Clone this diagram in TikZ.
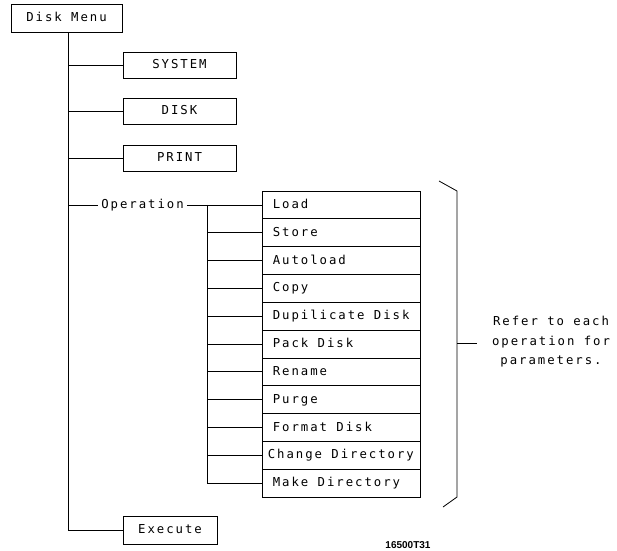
\documentclass[tikz,border=0pt]{standalone}
\usepackage{fontspec}
\newfontfamily\hpfont[LetterSpace=16]{DejaVu Sans Mono}
\newfontfamily\tagfont{Liberation Sans}
\begin{document}
\begin{tikzpicture}[x=1pt,y=-1pt,
  every node/.style={font=\hpfont\fontsize{12.3}{19.5}\selectfont},
  line/.style={draw=black,line width=0.8pt},
  fixed/.style={text height=9pt,text depth=3pt},
  menubox/.style={draw=black,line width=0.8pt,minimum height=28pt,inner sep=0pt,anchor=center,fixed},
  rowbox/.style={draw=black,line width=0.8pt,minimum height=27.82pt,minimum width=158pt,inner sep=0pt,anchor=center},
  rowtext/.style={inner sep=0pt,anchor=west,fixed},
  plain/.style={inner sep=0pt}]
\useasboundingbox (0,0) rectangle (617,550);
% top-level boxes
\node[menubox,minimum width=111pt,minimum height=28pt] (dm) at (66.5,18) {Disk Menu};
\node[menubox,minimum width=113pt,minimum height=26pt] (sys) at (179.5,65) {SYSTEM};
\node[menubox,minimum width=113pt,minimum height=26pt] (disk) at (179.5,111) {DISK};
\node[menubox,minimum width=113pt,minimum height=26pt] (print) at (179.5,158) {PRINT};
\node[menubox,minimum width=94pt,minimum height=28pt] (exec) at (170,530) {Execute};
\node[plain,fixed,inner xsep=3pt] (op) at (142.5,205.5) {Operation};
\coordinate (tr) at (68,0);
\coordinate (v2) at (207,0);
% trunk
\draw[line] (dm.south -| tr) |- (exec.west);
\foreach \n in {sys,disk,print}{\draw[line] (\n.west -| tr) -- (\n.west);}
\draw[line] (op.west -| tr) -- (op.west);
% operation rows
\foreach \i/\y in {1/204.9,2/232.7,3/260.5,4/288.4,5/316.2,6/344.0,7/371.8,8/399.6,9/427.5,10/455.3,11/483.1}{
  \node[rowbox] (r\i) at (341,\y) {};
}
\node[rowtext] (t1) at ([xshift=11pt,yshift=-0.5pt]r1.west) {Load};
\node[rowtext] (t2) at ([xshift=11pt,yshift=-0.5pt]r2.west) {Store};
\node[rowtext] (t3) at ([xshift=11pt,yshift=-0.5pt]r3.west) {Autoload};
\node[rowtext] (t4) at ([xshift=11pt,yshift=-0.5pt]r4.west) {Copy};
\node[rowtext] (t5) at ([xshift=11pt,yshift=-0.5pt]r5.west) {Dupilicate Disk};
\node[rowtext] (t6) at ([xshift=11pt,yshift=-0.5pt]r6.west) {Pack Disk};
\node[rowtext] (t7) at ([xshift=11pt,yshift=-0.5pt]r7.west) {Rename};
\node[rowtext] (t8) at ([xshift=11pt,yshift=-0.5pt]r8.west) {Purge};
\node[rowtext] (t9) at ([xshift=11pt,yshift=-0.5pt]r9.west) {Format Disk};
\node[rowtext] (t10) at ([xshift=6pt,yshift=-0.5pt]r10.west) {Change Directory};
\node[rowtext] (t11) at ([xshift=11pt,yshift=-0.5pt]r11.west) {Make Directory};
\draw[line] (op.east |- r1.west) -- (r1.west);
\draw[line] (r1.west -| v2) |- (r11.west);
\foreach \n in {r2,r3,r4,r5,r6,r7,r8,r9,r10}{\draw[line] (\n.west -| v2) -- (\n.west);}
% bracket
\coordinate (bt) at (457,191);
\coordinate (bb) at (457,497);
\coordinate (bm) at (457,343);
\draw[line] (439,181) -- (bt) -- (bb) -- (443,507);
\node[plain,align=center] (note) at (551,342) {Refer to each\\operation for\\parameters.};
\draw[line] (bm) -- (477,343);
\node[plain,font=\tagfont\bfseries\fontsize{10}{12}\selectfont] (tag) at (408,545) {16500T31};
\end{tikzpicture}
\end{document}
